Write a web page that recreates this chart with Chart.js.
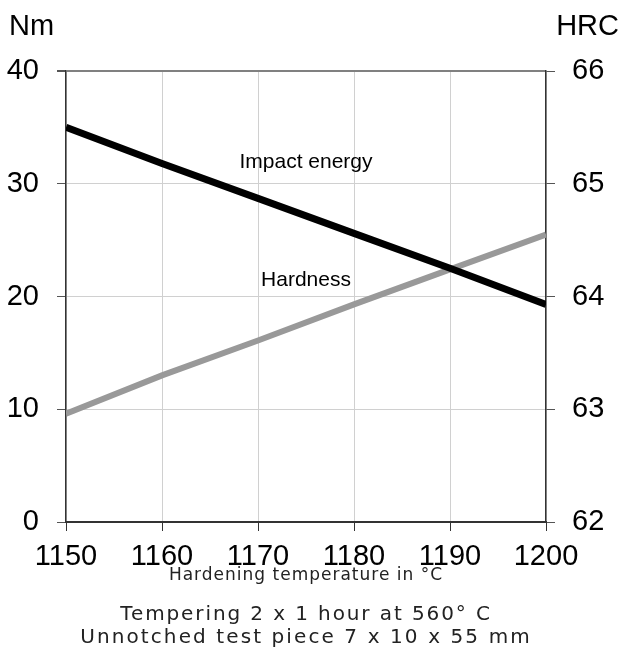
<!DOCTYPE html>
<html>
<head>
<meta charset="utf-8">
<script src="https://cdn.jsdelivr.net/npm/chart.js@4.4.1/dist/chart.umd.min.js"></script>
<style>
  html, body { margin: 0; padding: 0; background: #fff; }
  #wrap { position: relative; width: 623px; height: 649px; }
  #chart { position: absolute; left: 0; top: 0; }
  .note {
    position: absolute; left: 0; width: 612px; text-align: center;
    font-family: "DejaVu Sans", sans-serif; color: #222; line-height: 1; white-space: nowrap;
  }
  #xtitle { top: 566px; font-size: 17px; letter-spacing: 1px; }
  #line2 { top: 603px; font-size: 20px; letter-spacing: 1.9px; }
  #line3 { top: 626px; font-size: 20px; letter-spacing: 2.1px; }
</style>
</head>
<body>
<div id="wrap">
  <canvas id="chart" width="623" height="649"></canvas>
  <div class="note" id="xtitle">Hardening temperature in °C</div>
  <div class="note" id="line2">Tempering 2 x 1 hour at 560° C</div>
  <div class="note" id="line3">Unnotched test piece 7 x 10 x 55 mm</div>
</div>
<script>
// Hardening temperature (°C)
const temps = [1150, 1160, 1170, 1180, 1190, 1200];
// Impact energy, Nm (left axis)
const impactEnergy = [35, 31.8, 28.7, 25.6, 22.5, 19.3];
// Hardness, HRC (right axis)
const hardness = [62.96, 63.3, 63.61, 63.93, 64.24, 64.55];

const seriesNames = ['Impact energy', 'Hardness'];
const leftTitle = 'Nm';
const rightTitle = 'HRC';

const tickFont = { family: '"Liberation Sans", Arial, sans-serif', size: 29 };

// labels on the curves, anchored in data units (x, left-axis value)
const labelAnchors = [
    { text: seriesNames[0], x: 1175, y: 31.4 },
    { text: seriesNames[1], x: 1175, y: 20.9 }
];

const textPlugin = {
    id: 'textPlugin',
    afterDraw(chart) {
        const { ctx, scales } = chart;
        ctx.save();
        ctx.fillStyle = '#000';
        ctx.textBaseline = 'alphabetic';
        ctx.font = '29px "Liberation Sans", Arial, sans-serif';
        ctx.textAlign = 'left';
        ctx.fillText(leftTitle, 9, 35);
        ctx.textAlign = 'right';
        ctx.fillText(rightTitle, 619, 35);

        ctx.font = '21px "Liberation Sans", Arial, sans-serif';
        ctx.textAlign = 'center';
        labelAnchors.forEach(l => {
            ctx.fillText(l.text, scales.x.getPixelForValue(l.x), scales.y.getPixelForValue(l.y));
        });
        ctx.restore();
    }
};

Chart.defaults.color = '#000';

new Chart(document.getElementById('chart'), {
    type: 'line',
    data: {
        datasets: [
            {
                label: seriesNames[0],
                data: temps.map((t, i) => ({ x: t, y: impactEnergy[i] })),
                borderColor: '#000',
                borderWidth: 7,
                pointRadius: 0,
                tension: 0,
                yAxisID: 'y'
            },
            {
                label: seriesNames[1],
                data: temps.map((t, i) => ({ x: t, y: hardness[i] })),
                borderColor: '#999999',
                borderWidth: 6,
                pointRadius: 0,
                tension: 0,
                yAxisID: 'y2'
            }
        ]
    },
    options: {
        responsive: false,
        animation: false,
        layout: { padding: { top: 71, left: 0, right: 0, bottom: 0 } },
        plugins: {
            legend: { display: false },
            tooltip: { enabled: false }
        },
        scales: {
            x: {
                type: 'linear',
                min: 1150,
                max: 1200,
                ticks: { stepSize: 10, font: tickFont, padding: 9, maxRotation: 0, callback: v => String(v) },
                grid: { color: '#d0d0d0', lineWidth: 1, tickColor: '#333', tickLength: 9 },
                border: { color: '#333', width: 2 },
                afterFit: s => { s.height = 127; }
            },
            y: {
                position: 'left',
                min: 0,
                max: 40,
                ticks: { stepSize: 10, font: tickFont, padding: 18 },
                grid: {
                    color: c => c.tick && c.tick.value === 40 ? '#808080' : '#d0d0d0',
                    lineWidth: c => c.tick && c.tick.value === 40 ? 2 : 1,
                    tickColor: '#555',
                    tickLength: 9
                },
                border: { color: '#333', width: 1.5 },
                afterFit: s => { s.width = 66; }
            },
            y2: {
                position: 'right',
                min: 62,
                max: 66,
                ticks: { stepSize: 1, font: tickFont, padding: 17 },
                grid: { drawOnChartArea: false, tickColor: '#555', tickLength: 9 },
                border: { color: '#333', width: 1.5 },
                afterFit: s => { s.width = 77; }
            }
        }
    },
    plugins: [textPlugin]
});
</script>
</body>
</html>
